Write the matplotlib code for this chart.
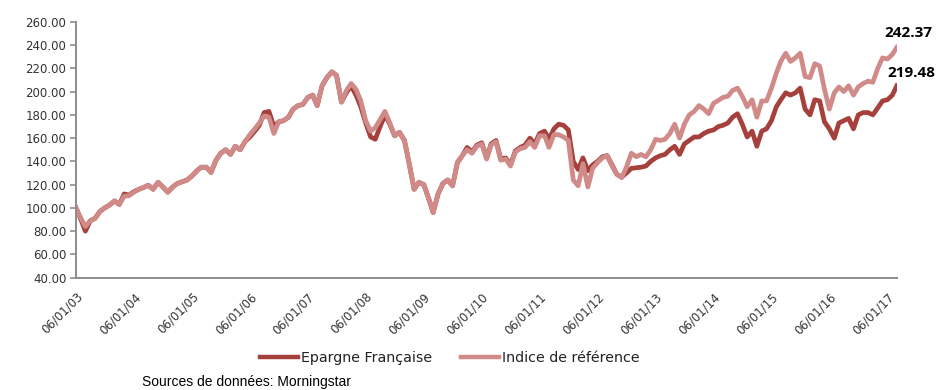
import matplotlib
matplotlib.use("Agg")
import matplotlib.pyplot as plt
import matplotlib.dates as mdates
import pandas as pd

# Monthly closing levels, base 100 on 06/01/2003
start_date = "2003-01-06"

indice = [
    100, 91, 84, 89, 91, 97, 100, 102.5, 106, 103,
    110, 110.5, 113.5, 116, 117.5, 119.5, 116, 122, 118, 113.5,
    118, 121, 122.5, 124, 127.5, 132, 135, 135, 130.5, 141,
    147, 150, 146, 153, 150, 157, 163, 168, 173, 179,
    178, 164, 174, 175, 178, 185, 188, 189, 195, 197,
    188, 205, 212, 217, 214, 191, 201, 207, 202, 192,
    175, 166, 169, 176, 183, 173, 162, 165, 158, 138,
    116, 122, 120, 108, 96, 112, 121, 124, 119, 139,
    145, 150, 147, 153, 155, 142, 154, 157, 141, 142,
    136, 148, 151, 152, 157, 152, 162, 162, 152, 163,
    163, 161, 158, 124, 119, 138, 118, 134, 139, 143,
    145, 136, 129, 126, 135, 147, 144, 146, 144, 150,
    159, 158, 159, 164, 172, 160, 172, 180, 183, 188,
    185, 181, 190, 192.5, 195, 196, 201, 203, 196, 187,
    193, 178, 192, 192, 203, 216, 226, 233, 226, 229,
    233, 213, 212, 224, 222, 202, 185, 199, 204, 200,
    205, 197, 204, 207, 209, 208, 220, 229, 228, 232,
    238,
]

epargne = [
    100, 90, 80, 89, 91, 97, 100, 102.5, 106, 103,
    112, 111, 114, 116, 117.5, 119.5, 116, 122, 118, 113.5,
    118, 121, 122.5, 124, 127.5, 132, 135, 135, 130.5, 141,
    147, 150, 146, 153, 150, 157, 161, 166, 171, 182,
    183, 170, 174, 175, 178, 185, 188, 189, 195, 197,
    188, 205, 212, 217, 214, 191, 199, 205, 197, 187,
    173, 161, 159, 170, 180, 172, 162, 165, 158, 138,
    116, 122, 120, 108, 96, 112, 121, 124, 119, 139,
    145, 152, 148, 154, 156, 143, 155, 158, 142, 143,
    137, 149, 152, 154, 160, 155, 164, 166, 159, 168,
    172, 171, 167, 140, 133, 143, 132, 137, 140, 144,
    145, 137, 129, 126.5, 130, 134, 134.5, 135, 136, 140,
    143, 145, 146, 150, 153, 146, 155, 158, 161, 161,
    164, 166, 167, 170, 171, 173, 178, 181, 172, 161,
    166, 153, 166, 168, 175, 187, 193, 199, 197, 199,
    203, 185, 180, 193, 192, 174, 168, 160, 173, 175,
    177, 168, 180, 182, 182, 180, 186, 192, 193, 197,
    205,
]

# Cumulative performance figures shown at the end of the series
perf_indice = 242.37
perf_epargne = 219.48

series_names = ["Epargne Française", "Indice de référence"]
source_text = "Sources de données: Morningstar"

dates = pd.date_range(start_date, periods=len(indice), freq=pd.DateOffset(months=1))
year_ticks = pd.date_range(start_date, periods=15, freq=pd.DateOffset(years=1))

col_epargne = "#A5403D"
col_indice = "#D08B89"
axis_grey = "#8C8C8C"

fig = plt.figure(figsize=(9.37, 3.90), dpi=100)
ax = fig.add_axes([0.0811, 0.288, 0.876, 0.656])

ax.plot(dates, epargne, color=col_epargne, lw=3.4, solid_joinstyle="round",
        label=series_names[0])
ax.plot(dates, indice, color=col_indice, lw=3.4, solid_joinstyle="round",
        label=series_names[1])

ax.set_xlim(dates[0], dates[-1])
ax.set_ylim(40, 260)
ax.set_yticks(range(40, 261, 20))
ax.yaxis.set_major_formatter(plt.FuncFormatter(lambda v, p: f"{v:.2f}"))

ax.set_xticks(year_ticks)
ax.xaxis.set_major_formatter(mdates.DateFormatter("%d/%m/%y"))
for lab in ax.get_xticklabels():
    lab.set_rotation(45)
    lab.set_ha("right")
    lab.set_rotation_mode("anchor")

for s in ("top", "right"):
    ax.spines[s].set_visible(False)
for s in ("left", "bottom"):
    ax.spines[s].set_color(axis_grey)
    ax.spines[s].set_linewidth(1.4)

ax.tick_params(axis="y", length=4, width=1.2, color=axis_grey,
               labelsize=8.5, labelcolor="#333333", pad=3)
ax.tick_params(axis="x", length=0, labelsize=8.5, labelcolor="#333333", pad=9)

bold_font = dict(family=["Open Sans", "DejaVu Sans"], weight="bold", size=11, color="black")
ax.annotate(f"{perf_indice:.2f}", xy=(dates[-1], perf_indice), xytext=(12, 9),
            textcoords="offset pixels", ha="center", va="center",
            annotation_clip=False, **bold_font)
ax.annotate(f"{perf_epargne:.2f}", xy=(dates[-1], perf_epargne), xytext=(15, -4),
            textcoords="offset pixels", ha="center", va="center",
            annotation_clip=False, **bold_font)

fig.legend(loc="center", bbox_to_anchor=(0.480, 0.082), ncol=2, frameon=False,
           fontsize=10.3, handlelength=2.7, handletextpad=0.2, columnspacing=2.0,
           borderaxespad=0, labelcolor="#222222")
for line in fig.legends[0].get_lines():
    line.set_linewidth(3.2)

fig.text(142 / 937, 1 - 382 / 390, source_text, ha="left", va="center",
         fontsize=10, family=["Liberation Sans Narrow", "Liberation Sans"], color="black")

fig.savefig("out.png", dpi=100)
